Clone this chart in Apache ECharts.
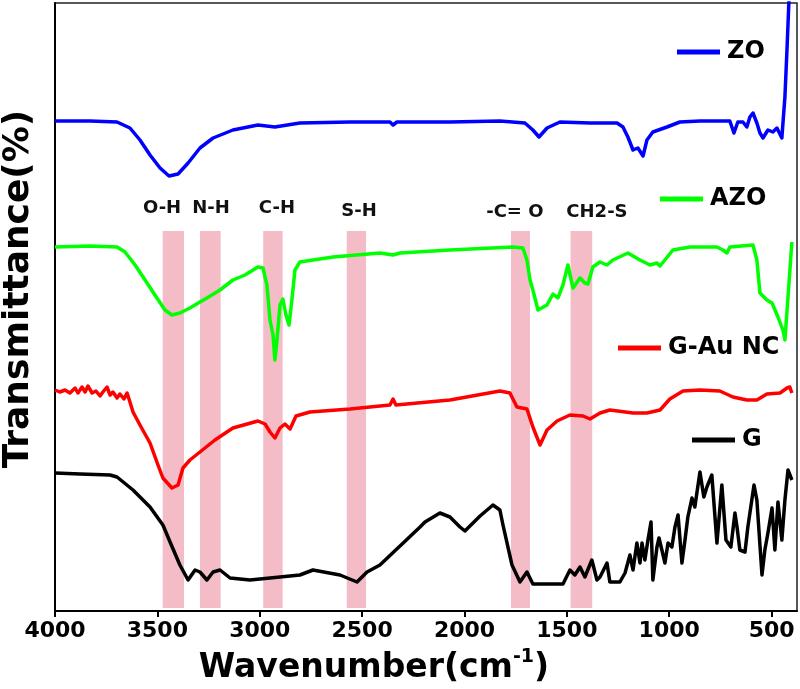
<!DOCTYPE html>
<html>
<head>
<meta charset="utf-8">
<script src="https://cdn.jsdelivr.net/npm/echarts@6/dist/echarts.min.js"></script>
<style>html,body{margin:0;padding:0;background:#fff}#c{width:800px;height:689px}</style>
</head>
<body>
<div id="c"></div>
<script>
// ---- data (wavenumber in cm^-1, transmittance in arbitrary offset units) ----
var zoWn = [4000,3829,3697,3634,3585,3536,3487,3443,3399,3350,3292,3228,3131,3009,2926,2804,2559,2364,2349,2330,2071,1827,1705,1666,1636,1597,1534,1387,1255,1226,1202,1177,1153,1128,1109,1080,1011,948,850,704,684,665,640,621,606,591,572,557,542,518,494,474,450,435,425,415];
var zoT  = [490,490,489,483,471,456,443,435,437,448,463,473,481,486,484,488,489,489,486,489,489,490,488,481,474,483,489,488,488,484,474,461,463,455,471,479,484,489,490,490,478,489,489,484,494,498,488,478,473,481,479,483,473,514,561,612];

var azoWn = [4000,3829,3697,3658,3609,3560,3512,3463,3429,3390,3341,3292,3258,3194,3131,3072,3009,2984,2965,2950,2935,2926,2916,2901,2887,2872,2857,2843,2828,2804,2642,2413,2349,2315,2071,1763,1715,1695,1680,1666,1641,1597,1568,1544,1519,1495,1470,1436,1412,1397,1373,1338,1304,1275,1202,1143,1094,1060,1045,982,899,767,738,718,704,591,572,557,523,498,469,445,435,420,401];
var azoT  = [364,365,364,359,346,331,316,301,296,298,303,309,313,321,331,336,344,343,326,291,276,251,271,306,312,296,286,311,341,349,354,358,356,358,361,364,363,351,331,321,301,306,317,313,326,346,323,333,328,327,344,349,346,351,358,351,346,348,345,361,364,364,361,358,364,366,351,318,311,308,294,281,271,314,369];

var gauWn = [4000,3976,3951,3927,3902,3888,3868,3853,3839,3819,3800,3780,3766,3746,3731,3717,3697,3683,3663,3648,3634,3619,3585,3536,3497,3473,3429,3399,3375,3341,3292,3219,3131,3009,2974,2950,2926,2901,2877,2852,2823,2755,2559,2364,2349,2335,2071,1827,1778,1744,1695,1666,1631,1597,1548,1485,1421,1387,1338,1290,1177,1109,1045,997,933,850,753,689,621,572,523,459,425,411,401];
var gauT  = [221,219,221,218,223,218,224,219,225,218,220,215,219,224,216,219,213,217,212,218,209,199,186,168,146,133,123,126,143,151,159,171,183,190,187,179,173,183,187,182,195,199,202,206,212,206,211,220,218,204,202,184,166,181,190,196,195,192,198,201,198,198,201,212,220,221,220,214,211,211,217,218,223,224,218];

var gWn = [4000,3878,3731,3697,3619,3536,3473,3438,3390,3350,3316,3292,3258,3228,3194,3145,3048,2901,2804,2740,2608,2525,2476,2413,2315,2217,2193,2120,2071,2022,1998,1924,1861,1827,1812,1768,1729,1695,1666,1519,1485,1461,1436,1412,1378,1353,1338,1304,1290,1241,1216,1192,1177,1158,1143,1133,1119,1104,1089,1080,1060,1050,1036,1021,1006,987,972,957,938,923,909,889,875,850,831,816,792,767,743,723,699,679,669,655,630,616,586,572,547,533,518,498,484,469,450,435,420,401];
var gT  = [138,137,136,134,121,104,86,69,46,31,41,39,31,39,41,33,31,34,36,41,36,29,39,46,65,84,89,98,94,84,80,95,106,101,86,46,29,39,27,27,41,36,44,34,51,31,34,48,29,29,38,56,41,68,48,68,51,71,89,31,64,73,61,48,68,64,84,96,48,71,94,113,104,139,114,124,136,68,126,71,64,98,84,61,59,84,126,111,36,61,78,103,61,109,71,111,141,131];

var seriesNames  = ['ZO','AZO','G-Au NC','G'];
var seriesColors = ['#0000ff','#00ff00','#ff0000','#000000'];

var bandFrom = [3474,3292,2983,2575,1773,1482];
var bandTo   = [3370,3191,2888,2481,1680,1376];
var bandBottom = 3, bandTop = 380;

var bandLabels  = ['O-H','N-H','C-H','S-H','-C= O','CH2-S'];
var bandLabelWn = [3477,3238,2916,2515,1754,1353];
var bandLabelY  = [403,403,403,400,399,399];

var xTicks = [4000,3500,3000,2500,2000,1500,1000,500];

// ---- build ----
function pairs(xs, ys){ return xs.map(function(x,i){ return [x, ys[i]]; }); }
var FONT = 'DejaVu Sans';

var lineSeries = [[zoWn,zoT],[azoWn,azoT],[gauWn,gauT],[gWn,gT]].map(function(d,i){
  return {
    name: seriesNames[i], type: 'line', data: pairs(d[0], d[1]),
    showSymbol: false, symbol: 'none', smooth: false, clip: true, z: 3,
    lineStyle: { color: seriesColors[i], width: 3.5, join: 'round' },
    itemStyle: { color: seriesColors[i] }
  };
});

var bandSeries = {
  type: 'line', data: [], z: 1, silent: true,
  markArea: {
    silent: true,
    itemStyle: { color: '#f3bcc7' },
    data: bandFrom.map(function(f,i){ return [{ xAxis: f, yAxis: bandBottom }, { xAxis: bandTo[i], yAxis: bandTop }]; })
  }
};

var labelSeries = {
  type: 'scatter', symbolSize: 0, z: 4, silent: true,
  itemStyle: { color: '#000', opacity: 1 },
  data: bandLabels.map(function(t,i){ return [bandLabelWn[i], bandLabelY[i], t]; }),
  label: {
    show: true, position: 'inside', formatter: function(p){ return p.data[2]; },
    fontFamily: FONT, fontWeight: 'bold', fontSize: 18, color: '#111', opacity: 1
  }
};

var legendPos = [[672,35],[655,182],[613,331],[687,423]];
var legends = seriesNames.map(function(n,i){
  return {
    data: [n], left: legendPos[i][0], top: legendPos[i][1], orient: 'horizontal',
    icon: 'rect', itemWidth: 43, itemHeight: 5, itemGap: 0, selectedMode: false,
    textStyle: { fontFamily: FONT, fontWeight: 'bold', fontSize: 24, color: '#000', padding: [0,0,0,2] }
  };
});

var chart = echarts.init(document.getElementById('c'), null, { renderer: 'canvas' });
chart.setOption({
  animation: false,
  backgroundColor: '#fff',
  grid: { left: 55, right: 3, top: 3, bottom: 78, outerBoundsMode: 'none', containLabel: false, show: true, borderColor: '#222', borderWidth: 1.5, backgroundColor: 'transparent' },
  legend: legends,
  xAxis: {
    type: 'value', inverse: true, min: 376, max: 4000,
    name: '{a|Wavenumber(cm}{s|-1}{a|)}', nameLocation: 'middle', nameGap: 37,
    nameTextStyle: {
      padding: [0, 104, 0, 0],
      rich: {
        a: { fontFamily: FONT, fontWeight: 'bold', fontSize: 33, color: '#000', lineHeight: 40 },
        s: { fontFamily: FONT, fontWeight: 'bold', fontSize: 19, color: '#000', lineHeight: 22, verticalAlign: 'top' }
      }
    },
    axisLine: { show: true, onZero: false, lineStyle: { color: '#000', width: 2 } },
    axisTick: { show: true, inside: false, length: 6, customValues: xTicks, lineStyle: { color: '#000', width: 2 } },
    axisLabel: { show: true, customValues: xTicks, margin: 9, formatter: function(v){ return String(v); }, fontFamily: FONT, fontWeight: 'bold', fontSize: 22, color: '#000' },
    splitLine: { show: false }
  },
  yAxis: {
    type: 'value', min: 0, max: 608,
    name: 'Transmittance(%)', nameLocation: 'middle', nameGap: 18, nameRotate: 90,
    nameTextStyle: { fontFamily: FONT, fontWeight: 'bold', fontSize: 36, color: '#000', padding: [0, 0, 0, 36] },
    axisLine: { show: true, onZero: false, lineStyle: { color: '#000', width: 2 } },
    axisTick: { show: false }, axisLabel: { show: false }, splitLine: { show: false }
  },
  series: [bandSeries].concat(lineSeries).concat([labelSeries])
});
</script>
</body>
</html>
